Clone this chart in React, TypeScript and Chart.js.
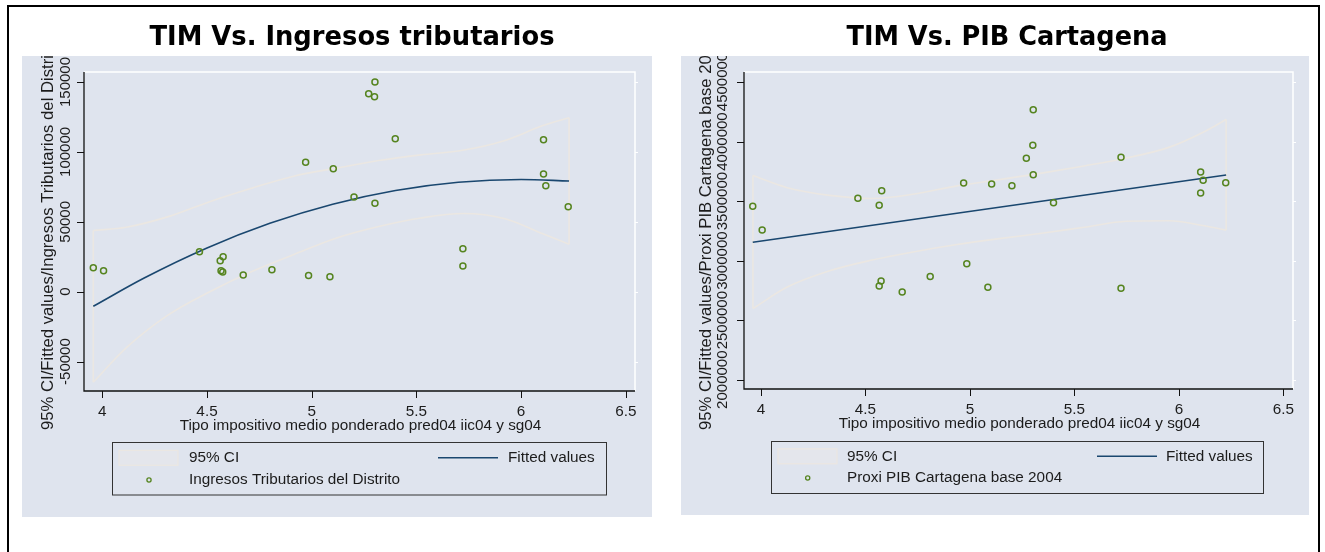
import React, { useEffect, useRef } from "react";
import { Chart, registerables } from "chart.js";

Chart.register(...registerables);

// ---------------- Data: left panel (TIM vs Ingresos tributarios) ----------------
const tributX = [3.957, 4.006, 4.464, 4.563, 4.577, 4.567, 4.575, 4.673, 4.81, 4.971, 4.985, 5.087, 5.103, 5.202, 5.272, 5.3, 5.302, 5.302, 5.399, 5.722, 5.722, 6.107, 6.107, 6.118, 6.225];
const tributY = [17200, 15000, 28600, 22200, 25000, 15000, 14100, 12000, 15700, 92600, 11500, 10700, 88000, 67700, 141600, 139500, 150000, 63200, 109400, 30800, 18400, 108700, 84200, 75800, 60800];
const tributFitX = [3.957, 4.2, 4.5, 4.8, 5.1, 5.4, 5.7, 6.0, 6.229];
const tributFitY = [-10400, 9800, 31300, 48900, 62600, 72400, 78300, 80300, 79200];
const tributCiX = [3.957, 4.114, 4.315, 4.516, 4.717, 4.918, 5.119, 5.32, 5.521, 5.722, 5.923, 6.104, 6.229];
const tributCiUpper = [43800, 46100, 53700, 64600, 74200, 82800, 88400, 93800, 97900, 101200, 108200, 118800, 124500];
const tributCiLower = [-64700, -40200, -16600, 200, 14600, 26800, 38400, 46600, 52700, 55900, 52200, 41400, 33900];
const tributYTicks = [-50000, 0, 50000, 100000, 150000];
const tributYTickLabels = ["-50000", "0", "50000", "100000", "150000"];

// ---------------- Data: right panel (TIM vs PIB Cartagena) ----------------
const pibX = [3.961, 4.006, 4.464, 4.566, 4.578, 4.575, 4.566, 4.676, 4.81, 4.97, 4.985, 5.086, 5.104, 5.201, 5.27, 5.301, 5.303, 5.303, 5.4, 5.723, 5.723, 6.104, 6.116, 6.104, 6.224];
const pibY = [3456000, 3257000, 3523000, 3464000, 3587000, 2829000, 2787000, 2736000, 2866000, 3652000, 2974000, 2776000, 3643000, 3629000, 3859000, 3968000, 4267000, 3722000, 3486000, 3868000, 2768000, 3744000, 3674000, 3568000, 3654000];
const pibFitX = [3.961, 6.226];
const pibFitY = [3154000, 3719000];
const pibCiX = [3.962, 4.126, 4.329, 4.532, 4.735, 4.938, 5.141, 5.344, 5.546, 5.749, 5.952, 6.114, 6.226];
const pibCiUpper = [3714000, 3612000, 3548000, 3522000, 3560000, 3628000, 3680000, 3735000, 3795000, 3862000, 3951000, 4076000, 4185000];
const pibCiLower = [2597000, 2778000, 2915000, 3005000, 3075000, 3135000, 3185000, 3230000, 3280000, 3330000, 3335000, 3295000, 3256000];
const pibYTicks = [2000000, 2500000, 3000000, 3500000, 4000000, 4500000];
const pibYTickLabels = ["2000000", "2500000", "3000000", "3500000", "4000000", "4500000"];

// ---------------- Shared x axis ----------------
const xTicks = [4, 4.5, 5, 5.5, 6, 6.5];
const xTickLabels = ["4", "4.5", "5", "5.5", "6", "6.5"];
const xAxisTitle = "Tipo impositivo medio ponderado pred04 iic04 y sg04";
const ciLabel = "95% CI";
const fitLabel = "Fitted values";

// ---------------- Styles ----------------
const BG = "#dfe4ee";
const NAVY = "#1a476f";
const GREEN = "#55841f";
const CI_LINE = "#ebe7e2";
const CI_KEY_FILL = "#e4e6ec";
const TEXT = "#1c1c1c";
const SANS = '"Liberation Sans", Arial, sans-serif';
const TITLE_FONT = '"DejaVu Sans", Verdana, sans-serif';

type LegendCfg = {
  x: number; y: number; w: number; h: number;
  row1: number; row2: number;
  keyX: number; keyW: number; keyH: number;
  textX: number; lineX1: number; lineX2: number; fitTextX: number; markerX: number;
};

type PanelCfg = {
  left: number; top: number; w: number; h: number;
  pad: { left: number; right: number; top: number; bottom: number };
  xMin: number; xMax: number; yMin: number; yMax: number;
  bgTop: number;
  title: string; titleX: number; titleBase: number; titleWidth: number;
  yTitle: string; yTitleX: number; yTitleBottom: number;
  yTickX: number; yTicks: number[]; yTickLabels: string[];
  xTickY: number; xTitleY: number;
  series: string;
  px: number[]; py: number[];
  fx: number[]; fy: number[];
  cx: number[]; cu: number[]; cl: number[];
  legend: LegendCfg;
};

const leftCfg: PanelCfg = {
  left: 22, top: 10, w: 630, h: 507,
  pad: { left: 62, right: 17, top: 62, bottom: 126 },
  xMin: 3.9126, xMax: 6.5439, yMin: -71030, yMax: 157153,
  bgTop: 46,
  title: "TIM Vs. Ingresos tributarios", titleX: 330, titleBase: 34.5, titleWidth: 405,
  yTitle: "95% CI/Fitted values/Ingresos Tributarios del Distrito", yTitleX: 26.5, yTitleBottom: 420,
  yTickX: 44, yTicks: tributYTicks, yTickLabels: tributYTickLabels,
  xTickY: 401.7, xTitleY: 415.7,
  series: "Ingresos Tributarios del Distrito",
  px: tributX, py: tributY, fx: tributFitX, fy: tributFitY,
  cx: tributCiX, cu: tributCiUpper, cl: tributCiLower,
  legend: { x: 90.5, y: 432.5, w: 494, h: 52.5, row1: 447.8, row2: 470, keyX: 97, keyW: 59, keyH: 15, textX: 167, lineX1: 416, lineX2: 476, fitTextX: 486, markerX: 127 },
};

const rightCfg: PanelCfg = {
  left: 681, top: 10, w: 628, h: 505,
  pad: { left: 63, right: 16, top: 62, bottom: 126 },
  xMin: 3.9191, xMax: 6.5459, yMin: 1921900, yMax: 4583980,
  bgTop: 46,
  title: "TIM Vs. PIB Cartagena", titleX: 326, titleBase: 34.5, titleWidth: 321,
  yTitle: "95% CI/Fitted values/Proxi PIB Cartagena base 2004", yTitleX: 25, yTitleBottom: 420,
  yTickX: 42, yTicks: pibYTicks, yTickLabels: pibYTickLabels,
  xTickY: 400, xTitleY: 414,
  series: "Proxi PIB Cartagena base 2004",
  px: pibX, py: pibY, fx: pibFitX, fy: pibFitY,
  cx: pibCiX, cu: pibCiUpper, cl: pibCiLower,
  legend: { x: 90.5, y: 431.5, w: 492, h: 52, row1: 446.3, row2: 468, keyX: 97, keyW: 59, keyH: 15, textX: 166, lineX1: 416, lineX2: 476, fitTextX: 485, markerX: 126.7 },
};

function makePlugin(cfg: PanelCfg) {
  return {
    id: "statapanel",
    beforeDraw(chart: any) {
      const { ctx, chartArea: ca, width, height } = chart;
      const ys = chart.scales.y;
      ctx.save();
      ctx.fillStyle = BG;
      ctx.fillRect(0, cfg.bgTop, width, height - cfg.bgTop);
      ctx.strokeStyle = "#ffffff";
      ctx.lineWidth = 1.5;
      ctx.beginPath();
      ctx.moveTo(ca.left, ca.top);
      ctx.lineTo(ca.right, ca.top);
      ctx.lineTo(ca.right, ca.bottom);
      ctx.stroke();
      ctx.lineWidth = 1;
      for (const v of cfg.yTicks) {
        const y = Math.round(ys.getPixelForValue(v)) + 0.5;
        ctx.beginPath();
        ctx.moveTo(ca.right, y);
        ctx.lineTo(ca.right + 3, y);
        ctx.stroke();
      }
      ctx.restore();
    },
    afterDraw(chart: any) {
      const { ctx, chartArea: ca, width, height } = chart;
      const xs = chart.scales.x;
      const ys = chart.scales.y;
      ctx.save();
      ctx.strokeStyle = "#111";
      ctx.lineWidth = 1.3;
      ctx.beginPath();
      ctx.moveTo(ca.left, ca.top);
      ctx.lineTo(ca.left, ca.bottom);
      ctx.lineTo(ca.right, ca.bottom);
      ctx.stroke();
      ctx.lineWidth = 1;
      for (const v of cfg.yTicks) {
        const y = Math.round(ys.getPixelForValue(v)) + 0.5;
        ctx.beginPath();
        ctx.moveTo(ca.left - 7, y);
        ctx.lineTo(ca.left, y);
        ctx.stroke();
      }
      for (const v of xTicks) {
        const x = Math.round(xs.getPixelForValue(v)) + 0.5;
        ctx.beginPath();
        ctx.moveTo(x, ca.bottom);
        ctx.lineTo(x, ca.bottom + 7);
        ctx.stroke();
      }
      ctx.fillStyle = TEXT;
      ctx.font = `15.3px ${SANS}`;
      ctx.textAlign = "center";
      ctx.textBaseline = "middle";
      xTicks.forEach((v, i) => {
        ctx.fillText(xTickLabels[i], xs.getPixelForValue(v), cfg.xTickY);
      });
      ctx.fillText(xAxisTitle, (ca.left + ca.right) / 2 + 1, cfg.xTitleY);

      ctx.save();
      ctx.beginPath();
      ctx.rect(0, cfg.bgTop, width, height - cfg.bgTop);
      ctx.clip();
      ctx.font = `15px ${SANS}`;
      cfg.yTicks.forEach((v, i) => {
        ctx.save();
        ctx.translate(cfg.yTickX, ys.getPixelForValue(v));
        ctx.rotate(-Math.PI / 2);
        ctx.textAlign = "center";
        ctx.textBaseline = "middle";
        ctx.fillText(cfg.yTickLabels[i], 0, 0);
        ctx.restore();
      });
      ctx.font = `16.7px ${SANS}`;
      ctx.save();
      ctx.translate(cfg.yTitleX, cfg.yTitleBottom);
      ctx.rotate(-Math.PI / 2);
      ctx.textAlign = "left";
      ctx.textBaseline = "middle";
      ctx.fillText(cfg.yTitle, 0, 0);
      ctx.restore();
      ctx.restore();

      // main title
      ctx.save();
      ctx.fillStyle = "#000";
      ctx.font = `bold 26px ${TITLE_FONT}`;
      const tw = ctx.measureText(cfg.title).width;
      ctx.translate(cfg.titleX, cfg.titleBase);
      ctx.scale(cfg.titleWidth / tw, 1);
      ctx.textAlign = "center";
      ctx.textBaseline = "alphabetic";
      ctx.fillText(cfg.title, 0, 0);
      ctx.restore();

      // legend
      const L = cfg.legend;
      ctx.strokeStyle = "#333";
      ctx.lineWidth = 1;
      ctx.strokeRect(L.x, L.y, L.w, L.h);
      ctx.fillStyle = CI_KEY_FILL;
      ctx.fillRect(L.keyX, L.row1 - L.keyH / 2, L.keyW, L.keyH);
      ctx.strokeStyle = CI_LINE;
      ctx.lineWidth = 1.2;
      ctx.strokeRect(L.keyX, L.row1 - L.keyH / 2, L.keyW, L.keyH);
      ctx.strokeStyle = NAVY;
      ctx.lineWidth = 1.5;
      ctx.beginPath();
      ctx.moveTo(L.lineX1, L.row1);
      ctx.lineTo(L.lineX2, L.row1);
      ctx.stroke();
      ctx.strokeStyle = GREEN;
      ctx.lineWidth = 1.3;
      ctx.beginPath();
      ctx.arc(L.markerX, L.row2, 2.1, 0, Math.PI * 2);
      ctx.stroke();
      ctx.fillStyle = TEXT;
      ctx.font = `15.3px ${SANS}`;
      ctx.textAlign = "left";
      ctx.textBaseline = "middle";
      ctx.fillText(ciLabel, L.textX, L.row1);
      ctx.fillText(fitLabel, L.fitTextX, L.row1);
      ctx.fillText(cfg.series, L.textX, L.row2);
      ctx.restore();
    },
  };
}

function Panel({ cfg }: { cfg: PanelCfg }) {
  const ref = useRef<HTMLCanvasElement>(null);
  useEffect(() => {
    const points = cfg.px.map((x, i) => ({ x, y: cfg.py[i] }));
    const fit = cfg.fx.map((x, i) => ({ x, y: cfg.fy[i] }));
    const ciUp = cfg.cx.map((x, i) => ({ x, y: cfg.cu[i] }));
    const ciLow = cfg.cx.map((x, i) => ({ x, y: cfg.cl[i] }));
    const n = cfg.cx.length - 1;
    const ciLeftEdge = [ciLow[0], ciUp[0]];
    const ciRightEdge = [ciLow[n], ciUp[n]];
    const ciStyle = {
      showLine: true,
      borderColor: CI_LINE,
      borderWidth: 1.6,
      pointRadius: 0,
      fill: false,
    };
    const chart = new Chart(ref.current as HTMLCanvasElement, {
      type: "scatter",
      data: {
        datasets: [
          {
            label: cfg.series,
            data: points,
            pointStyle: "circle",
            pointRadius: 3,
            pointBorderWidth: 1.5,
            pointBackgroundColor: "rgba(0,0,0,0)",
            pointBorderColor: GREEN,
            showLine: false,
          } as any,
          {
            label: fitLabel,
            data: fit,
            showLine: true,
            borderColor: NAVY,
            borderWidth: 1.6,
            pointRadius: 0,
            cubicInterpolationMode: "monotone",
            fill: false,
          },
          { label: ciLabel, data: ciUp, cubicInterpolationMode: "monotone", ...ciStyle },
          { label: ciLabel, data: ciLow, cubicInterpolationMode: "monotone", ...ciStyle },
          { label: ciLabel, data: ciLeftEdge, ...ciStyle },
          { label: ciLabel, data: ciRightEdge, ...ciStyle },
        ],
      },
      options: {
        animation: false,
        responsive: false,
        maintainAspectRatio: false,
        events: [],
        layout: { padding: cfg.pad },
        plugins: {
          legend: { display: false },
          tooltip: { enabled: false },
          title: { display: false },
        },
        scales: {
          x: { type: "linear", min: cfg.xMin, max: cfg.xMax, display: false },
          y: { type: "linear", min: cfg.yMin, max: cfg.yMax, display: false },
        },
      },
      plugins: [makePlugin(cfg)],
    });
    return () => chart.destroy();
  }, [cfg]);
  return (
    <canvas
      ref={ref}
      width={cfg.w}
      height={cfg.h}
      style={{ position: "absolute", left: cfg.left, top: cfg.top, width: cfg.w, height: cfg.h }}
    />
  );
}

export default function App() {
  return (
    <div style={{ position: "absolute", left: 0, top: 0, width: 1325, height: 552, background: "#fff", overflow: "hidden" }}>
      <div
        style={{
          position: "absolute",
          left: 7,
          top: 5,
          width: 1309,
          height: 700,
          border: "2px solid #000",
          boxSizing: "content-box",
        }}
      />
      <Panel cfg={leftCfg} />
      <Panel cfg={rightCfg} />
    </div>
  );
}
